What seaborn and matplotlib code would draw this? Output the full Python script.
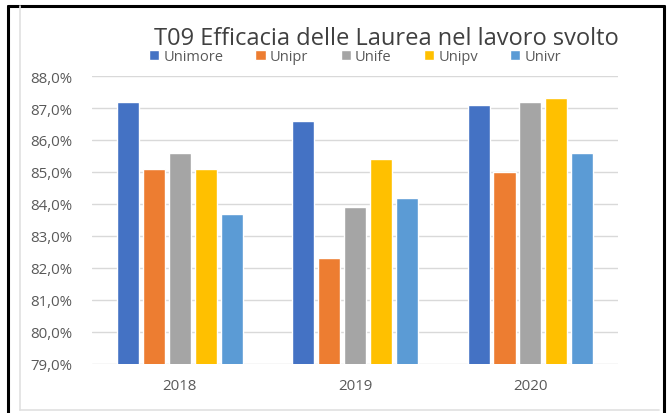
import pandas as pd
import matplotlib.pyplot as plt
import seaborn as sns
from matplotlib.ticker import FuncFormatter
from matplotlib.lines import Line2D

# Dati
anni = ['2018', '2019', '2020']
atenei = ['Unimore', 'Unipr', 'Unife', 'Unipv', 'Univr']
unimore = [87.2, 86.6, 87.1]
unipr = [85.1, 82.3, 85.0]
unife = [85.6, 83.9, 87.2]
unipv = [85.1, 85.4, 87.3]
univr = [83.7, 84.2, 85.6]
colori = ['#4472C4', '#ED7D31', '#A5A5A5', '#FFC000', '#5B9BD5']

valori = [unimore, unipr, unife, unipv, univr]
righe = []
for ateneo, serie in zip(atenei, valori):
    for anno, v in zip(anni, serie):
        righe.append({'Anno': anno, 'Ateneo': ateneo, 'Valore': v})
df = pd.DataFrame(righe)

sns.set_style('white')
plt.rcParams['font.family'] = ['Open Sans', 'DejaVu Sans']

fig = plt.figure(figsize=(6.69, 4.14), dpi=100)
ax = fig.add_axes([0.1375, 0.1184, 0.7865, 0.6956])

sns.barplot(data=df, x='Anno', y='Valore', hue='Ateneo', hue_order=atenei,
            palette=colori, width=0.74, gap=0.15, saturation=1, ax=ax,
            legend=True)

ax.set_ylim(79, 88)
ax.set_yticks([79, 80, 81, 82, 83, 84, 85, 86, 87, 88])
ax.yaxis.set_major_formatter(FuncFormatter(lambda v, p: f"{v:.1f}%".replace('.', ',')))
ax.set_xlim(-0.5, 2.5)
ax.grid(axis='y', color='#D9D9D9', linewidth=1)
ax.set_axisbelow(True)
for s in ax.spines.values():
    s.set_visible(False)
ax.set_xlabel('')
ax.set_ylabel('')
ax.tick_params(axis='both', length=0, labelsize=10.8, colors='#595959')
ax.tick_params(axis='x', pad=10)
ax.tick_params(axis='y', pad=14)

ax.legend(loc='lower center', bbox_to_anchor=(0.5, 0.995), ncol=5, frameon=False,
          fontsize=10.5, handlelength=0.7, handleheight=0.7, handletextpad=0.3,
          columnspacing=2.2, labelcolor='#595959')

fig.text(0.578, 0.905, 'T09 Efficacia delle Laurea nel lavoro svolto',
         ha='center', va='center', fontsize=17, color='#404040')

# cornici
fig.add_artist(Line2D([0.012, 0.012], [0, 0.983], color='black', linewidth=2.2))
fig.add_artist(Line2D([0.012, 0.9925], [0.983, 0.983], color='black', linewidth=2.2))
fig.add_artist(Line2D([0.9925, 0.9925], [0, 0.983], color='black', linewidth=2.2))
fig.add_artist(Line2D([0.030, 0.030], [0.008, 0.983], color='#E0E0E0', linewidth=1.2))
fig.add_artist(Line2D([0.030, 0.985], [0.008, 0.008], color='#E0E0E0', linewidth=1.2))

plt.savefig('out.png', dpi=100)
plt.close()
